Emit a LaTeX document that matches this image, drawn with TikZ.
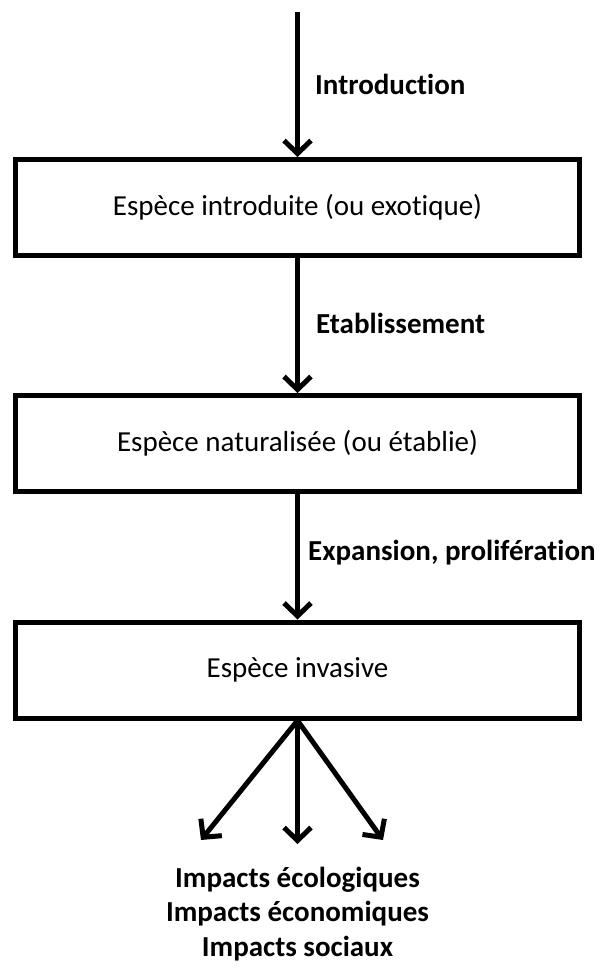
\documentclass[tikz,border=0pt]{standalone}
\usepackage{fontspec}
\setmainfont{Carlito}[Ligatures=NoCommon]
\usetikzlibrary{arrows.meta,positioning}

\begin{document}
\begin{tikzpicture}[x=1pt,y=-1pt,
    stage/.style={draw,line width=5pt,minimum width=564pt,minimum height=96pt,
      inner sep=0pt,font=\fontsize{29}{35}\selectfont},
    flow/.style={line width=5pt,-{Straight Barb[length=13pt,width=27pt]}},
    steplabel/.style={anchor=west,inner sep=0pt,font=\fontsize{29}{35}\selectfont\bfseries}]
  \useasboundingbox (0,0) rectangle (607,972);
  \coordinate (start) at (297.5,12);
  \node[stage] (introduite) at (297.5,207.5) {Espèce introduite (ou exotique)};
  \node[stage] (naturalisee) at (297.5,443.5) {Espèce naturalisée (ou établie)};
  \node[stage] (invasive) at (297.5,670) {Espèce invasive};
  \coordinate (ecol) at (201,840);
  \coordinate (econ) at (297.5,844);
  \coordinate (soc) at (383,840);
  \draw[flow] (start) -- (introduite.north);
  \draw[flow] (introduite.south) -- (naturalisee.north);
  \draw[flow] (naturalisee.south) -- (invasive.north);
  \draw[flow] (invasive.south) -- (ecol);
  \draw[flow] (invasive.south) -- (econ);
  \draw[flow] (invasive.south) -- (soc);
  \node[steplabel] (lintro) at (315,84) {Introduction};
  \node[steplabel] (letab) at (316,323) {Etablissement};
  \node[steplabel] (lexp) at (308,553) {Expansion, prolifération};
  \node[align=center,inner sep=0pt,font=\fontsize{29}{34.5}\selectfont\bfseries] (impacts)
    at (297.5,914) {Impacts écologiques\\Impacts économiques\\Impacts sociaux};
\end{tikzpicture}
\end{document}
